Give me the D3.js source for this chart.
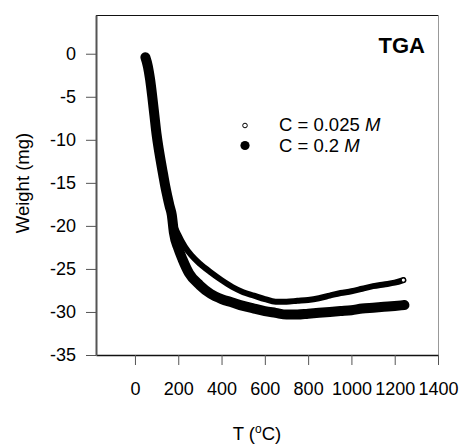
<!DOCTYPE html>
<html>
<head>
    <meta charset="utf-8">
    <title>TGA</title>
    <script src="https://d3js.org/d3.v7.min.js"></script>
    <style>
        body { margin: 0; background: #fff; }
        .axis text {
            font-family: "Liberation Sans", Arial, sans-serif;
            font-size: 18px;
            fill: #000;
        }
        .axis line { stroke: #555; }
        .label {
            font-family: "Liberation Sans", Arial, sans-serif;
            font-size: 18.5px;
            fill: #000;
        }
    </style>
</head>
<body>
<svg width="461" height="444"></svg>
<script>
    // temperatures (C) and weights (mg)
    var tempLow = [48, 60, 70, 80, 90, 100, 110, 120, 130, 140, 150, 160, 170,
        180, 200, 230, 260, 300, 350, 400, 450, 500, 550, 600, 650, 700, 750,
        800, 850, 900, 950, 1000, 1050, 1100, 1150, 1200, 1240];
    var weightLow = [-0.4, -1.5, -3.0, -5.0, -7.2, -9.4, -11.1, -12.6, -14.0, -15.4, -16.6, -17.7, -18.7,
        -19.8, -21.0, -22.4, -23.4, -24.4, -25.4, -26.3, -27.1, -27.7, -28.1, -28.5, -28.8, -28.8, -28.7,
        -28.6, -28.4, -28.1, -27.8, -27.6, -27.3, -27.0, -26.8, -26.6, -26.3];

    var tempHigh = [48, 60, 70, 80, 90, 100, 110, 120, 130, 140, 150, 160, 170,
        180, 200, 220, 250, 300, 350, 400, 450, 500, 550, 600, 650, 700, 750,
        800, 850, 900, 950, 1000, 1050, 1100, 1150, 1200, 1245];
    var weightHigh = [-0.4, -1.5, -3.0, -5.0, -7.2, -9.4, -11.1, -12.6, -14.0, -15.4, -16.6, -17.7, -18.7,
        -20.8, -22.6, -23.9, -25.5, -26.9, -27.9, -28.5, -28.9, -29.3, -29.6, -29.9, -30.1, -30.3, -30.3,
        -30.2, -30.1, -30.0, -29.9, -29.8, -29.6, -29.5, -29.4, -29.3, -29.2];

    var xTicks = [0, 200, 400, 600, 800, 1000, 1200, 1400];
    var yTicks = [0, -5, -10, -15, -20, -25, -30, -35];
    var seriesNames = ["C = 0.025 ", "C = 0.2 "];

    var svg = d3.select("svg");
    var pLeft = 96, pRight = 438, pTop = 15, pBottom = 355;

    var x = d3.scaleLinear().domain([-180, 1400]).range([pLeft, pRight]);
    var y = d3.scaleLinear().domain([-35, 4.5]).range([pBottom, pTop]);

    // frame: top and right
    svg.append("line").attr("x1", pLeft).attr("x2", pRight).attr("y1", pTop + 0.5).attr("y2", pTop + 0.5)
        .attr("stroke", "#111").attr("stroke-width", 1);
    svg.append("line").attr("x1", pRight + 0.5).attr("x2", pRight + 0.5).attr("y1", pTop).attr("y2", pBottom)
        .attr("stroke", "#999").attr("stroke-width", 1);

    var xAxis = svg.append("g")
        .attr("class", "axis")
        .attr("transform", "translate(0," + pBottom + ")")
        .call(d3.axisBottom(x).tickValues(xTicks).tickFormat(function(d) { return String(d); })
            .tickSize(10).tickSizeOuter(0).tickPadding(17));
    xAxis.select(".domain").attr("stroke", "#111").attr("stroke-width", 1.5);

    var yAxis = svg.append("g")
        .attr("class", "axis")
        .attr("transform", "translate(" + pLeft + ",0)")
        .call(d3.axisLeft(y).tickValues(yTicks).tickFormat(function(d) { return String(d); })
            .tickSize(10).tickSizeOuter(0).tickPadding(10));
    yAxis.select(".domain").attr("stroke", "#555").attr("stroke-width", 2);

    var line = d3.line()
        .x(function(d) { return x(d[0]); })
        .y(function(d) { return y(d[1]); })
        .curve(d3.curveMonotoneX);

    var high = d3.zip(tempHigh, weightHigh);
    var low = d3.zip(tempLow, weightLow);

    svg.append("path")
        .datum(high)
        .attr("d", line)
        .attr("fill", "none")
        .attr("stroke", "#000")
        .attr("stroke-width", 10)
        .attr("stroke-linecap", "round")
        .attr("stroke-linejoin", "round");

    svg.append("path")
        .datum(low)
        .attr("d", line)
        .attr("fill", "none")
        .attr("stroke", "#000")
        .attr("stroke-width", 6)
        .attr("stroke-linecap", "round")
        .attr("stroke-linejoin", "round");

    // last open marker of the low concentration run
    svg.append("circle")
        .datum(low[low.length - 1])
        .attr("cx", function(d) { return x(d[0]); })
        .attr("cy", function(d) { return y(d[1]); })
        .attr("r", 2.2)
        .attr("fill", "#fff")
        .attr("stroke", "#000")
        .attr("stroke-width", 1.2);

    // legend
    svg.append("circle").attr("cx", 245).attr("cy", 125.5).attr("r", 2.3)
        .attr("fill", "#fff").attr("stroke", "#000").attr("stroke-width", 1);
    svg.append("circle").attr("cx", 245).attr("cy", 145.5).attr("r", 4.6).attr("fill", "#000");

    [131, 152].forEach(function(yy, i) {
        var t = svg.append("text").attr("class", "label").attr("x", 279).attr("y", yy);
        t.append("tspan").text(seriesNames[i]);
        t.append("tspan").attr("font-style", "italic").text("M");
    });

    svg.append("text")
        .attr("x", 425).attr("y", 53)
        .attr("text-anchor", "end")
        .style("font-family", "'Liberation Sans', Arial, sans-serif")
        .style("font-size", "22px")
        .style("font-weight", "bold")
        .text("TGA");

    svg.append("text")
        .attr("class", "label")
        .attr("transform", "translate(29,183) rotate(-90)")
        .attr("text-anchor", "middle")
        .text("Weight (mg)");

    var xt = svg.append("text")
        .attr("class", "label")
        .attr("x", 257).attr("y", 440)
        .attr("text-anchor", "middle");
    xt.append("tspan").text("T (");
    xt.append("tspan").attr("font-size", "12px").attr("dy", -7).text("o");
    xt.append("tspan").attr("dy", 7).text("C)");
</script>
</body>
</html>
